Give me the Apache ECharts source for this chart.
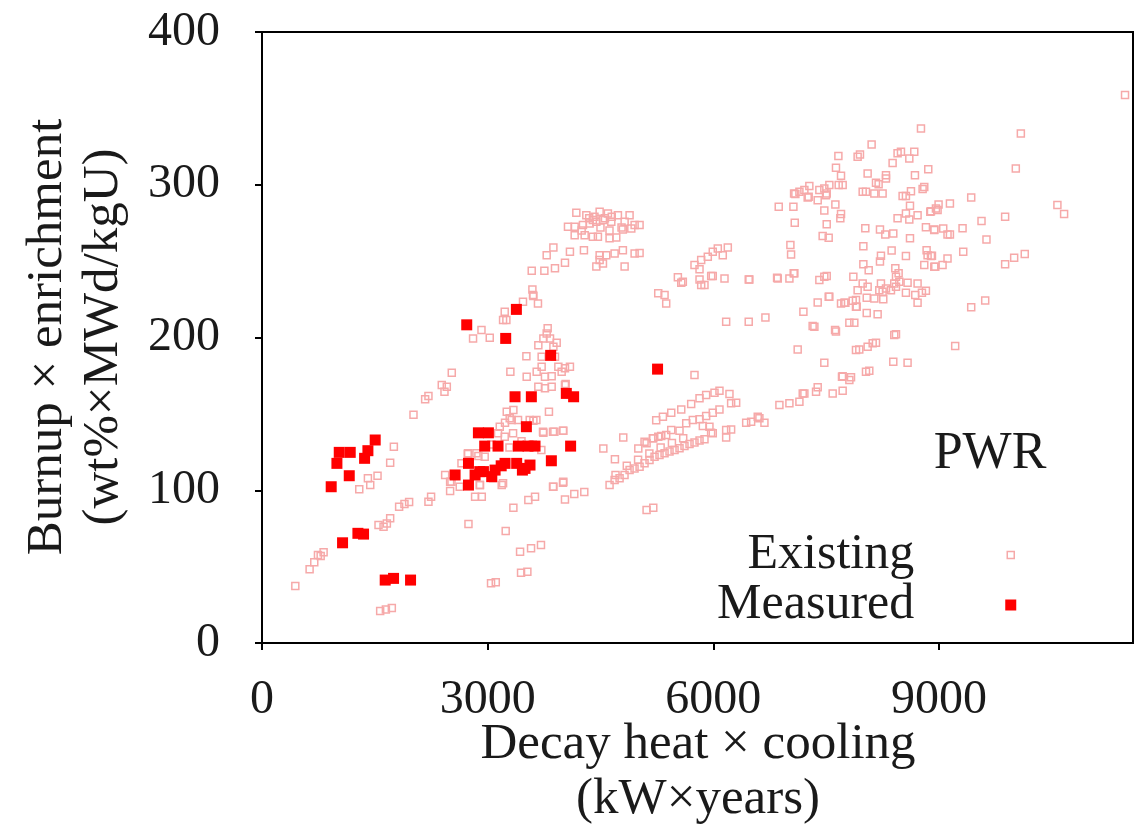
<!DOCTYPE html>
<html>
<head>
<meta charset="utf-8">
<script src="https://cdn.jsdelivr.net/npm/echarts@6/dist/echarts.min.js"></script>
<style>
html,body{margin:0;padding:0;background:#fff;}
#chart{width:1140px;height:825px;}
</style>
</head>
<body>
<div id="chart"></div>
<script>
// ---- Data (x: decay heat x cooling [kW x years], y: burnup x enrichment) ----
const xTicks = [0, 3000, 6000, 9000];
const yTicks = [0, 100, 200, 300, 400];

const existingLowLeft = [
  [443,37.3],[633,48.2],[695,52.8],[744,57.6],[819,59.4],[780,57],
  [1549,77.2],[1616,76.1],[1660,78.3],[1704,81.6],
  [1823,89.2],[1894,91],[1956,92.3],[2213,92.5],[2248,95.8],
  [2435,110],[2501,105.6],[2501,99.5],[1753,128.5],[1704,118],
  [1536,109.5],[1408,107.8],[1439,103.4],[1293,100.6],
  [1571,20.9],[1647,22],[1726,22.9],
  [2390,168.9],[2457,167.8],[2426,164.5],[2523,176.9],
  [2169,159.5],[2213,161.7],[2014,149.4],
  [2736,123.7],[2877,122.4],[2833,95.8],[2922,95.8],[2899,103.4],[3187,103.4],
  [2745,77.9],[3240,73.3],[3431,59.8],[3577,62],[3709,64.1],
  [3444,46],[3528,46.7],[3045,39.1],[3108,39.8]
];

const existingCenter = [
  [3254,151.4],[3342,152.5],[3815,151.4],[4037,169.5],
  [3231,144.2],[3320,146],[3608,145.5],[3741,137.6],[3887,138.3],[4006,139],
  [3541,93.6],[3630,95.8],[3342,88.6],[3874,102.3],[4006,105.6],
  [4028,94],[4152,97.5],[4285,98.8],
  [3603,227.8],[3669,222.3],[3470,223.4],[3595,231.5],[3608,227.1],
  [3227,216.8],[3249,211.4],[3205,211.4],[2806,199.4],[2918,204.9],[3028,199.8],
  [3515,187.8],[3302,177.6],
  [3798,206],[3785,202.7],[3741,199.4],[3829,199.4],[3918,196.6],[3674,195],[3874,193.9],
  [3718,187.4],[3895,187.4],[3718,180.9],[3940,180.9],[4028,179.8],[4094,180.9],
  [3652,177.6],[3762,174.3],[3851,174.7],[3984,177.6],[3519,174.3],
  [3674,167.8],[3762,166.7],[3851,167.8],[4028,168.9],
  [3293,147.1],[3404,146],[3559,146],[3648,146],[3869,138.3],[4002,139],[3736,138.3],
  [3138,137.3],[3227,135.1],[3338,137.3],[3161,141.6],
  [2740,124.2],[2652,117.6],[2851,124.2],[2961,122],
  [2519,105.6],[2629,102.3],[2895,103.4],[3205,104.6],[3072,107.8],
  [3714,126.3],[3869,102.3],[4002,104.9],
  [3050,130],[3290,128],[3450,132],[3600,130]
];

const existingTop = [
  [3586,243.7],[3754,243.7],[3895,245.3],[4028,248.9],[3785,253.9],[3874,259],[4094,256.1],[4280,257.2],
  [4179,281.6],[4312,280.1],[4399,276.9],[4489,282.3],[4599,281.2],[4732,280.1],[4887,280.1],
  [4068,272.5],[4157,272.5],[4267,273.6],[4356,274.7],[4445,275.8],[4533,276.9],[4644,275.8],
  [4821,275.8],[4954,273.6],[5020,273.6],
  [4157,267],[4290,267],[4399,265.9],[4466,265.9],[4621,264.9],[4710,265.5],[4798,270.7],[4910,271.4],
  [4489,253.9],[4577,253.9],[4688,255],[4798,257.2],[4954,255],[5020,255.4],
  [4445,246.4],[4533,248.5],[4821,246.4],[4489,250.7],
  [4350,278],[4420,279],[4560,278],[4650,279],[4780,272],[4250,270],[4620,270],[4500,272]
];

const existingBands = [
  [4538,127.4],[4692,120.3],[4803,134.6],[5003,127.4],[5113,130.7],[5202,134],[5268,135],
  [5113,87],[5202,88.6],
  [5241,145.9],[5330,148.1],[5441,150.7],[5574,152.9],[5706,156.4],[5817,160.2],[5905,162.3],
  [6016,163.8],[6082,165.1],[6215,163],[6304,157.3],[6237,156.9],
  [5441,139.4],[5551,139],[5640,143.8],[5728,146],[5817,146.4],[5905,148.6],[5993,150.7],
  [6082,152.9],[5861,142],[5949,141.6],[6171,139.4],[6237,139.8],
  [4621,103.4],[4688,106.7],[4754,107.8],[4820,110],[4887,113.2],[4953,114.3],[5020,115.4],
  [5086,117.6],[5152,119.8],[5219,122],[5285,123.1],[5352,124.2],[5418,125.3],[5485,126.4],
  [5551,127.5],[5617,129],[5684,130.3],[5750,131.2],[5817,132.5],[5883,133.4],[5993,137.3],
  [4700,110],[4850,116],[5000,120],[5150,124],[5300,128],[5450,131],[5600,134],
  [5086,131.7],[5196,134],[5308,135.5],[5374,136.1],
  [5750,175.4],[6171,134.6],[6437,144.2],[6503,144.9],[6591,148.1],[5971,137.6],
  [6613,147.1],[6680,144.2],
  [6879,155.8],[7012,156.9],[7145,158],[7189,163.4],[7366,164.5],[7388,167.4],
  [7587,163.4],[7720,165.1],[7809,172.1],[7211,163.4]
];

const existingUpperRight = [
  [5352,227.8],[5374,222.3],[5529,239.4],[5574,235.8],[5595,236.5],
  [5750,247.4],[5817,244.6],[5839,250.7],[5927,252.9],[5993,256.1],[6060,258.3],[6126,253.9],[6193,259],
  [5817,238],[5839,234.3],[5883,234.3],[5972,240.2],[5993,240.2],[6480,238],[5268,228.9],
  [6171,210.3],[6149,238.6],[6857,238.6],[6693,213.1],[6471,210.3],[6471,238],
  [8761,336.9],[8105,326.4],[7663,318.9],[7950,319.8],[7919,318.3],[8495,321.6],[8450,320.7],
  [8672,321.6],[8606,317.2],[8384,314.3],[7631,311.1],[8858,310.2],[8052,307.4],[7698,305.9],
  [8296,306.3],[8296,304.1],[8681,306.3],[8163,301.3],[8198,300.4],[7667,299.8],[7720,299.8],
  [7543,299.8],[7277,299.1],[7211,296.5],[7145,295.4],[7074,294.3],[7410,296.5],[7476,297.6],
  [7508,294.3],[7255,291.7],[7388,289.9],[7986,295.4],[8030,295.4],[8141,294.3],[8251,294.3],
  [8517,292.6],[8561,292.6],[8628,295.8],[8805,298.6],[8783,297.2],[6870,285.6],[7065,285.6],
  [7623,287.1],[8615,286.3],[8885,282.4],[8960,284.5],[7476,283.1],[7698,280.8],[7689,278],
  [8561,281.2],[8450,278],[8606,277.3],[8716,280.1],[7083,275.2],[7508,274.1],[8021,271.5],
  [8216,270.7],[8287,267.4],[8393,268.1],[8827,272.1],[8938,270.7],[8615,264.9],[7454,266.4],
  [7534,265.3],[7025,260.5],[7034,254.4],[7995,259.8],[8371,256.9],[8229,253.6],[8216,249.7],
  [8561,253.3],[8836,257.2],[8849,253.9],[8894,253.3],[8805,247.4],[8938,246.3],[7995,248],
  [8066,244.1],[8420,245.3],[8464,242],[8429,239.8],[8406,235.4],[8473,236.5],[8429,233.2],
  [8583,235.8],[8716,235.4],[8561,229.3],[8685,227.8],[8774,229.3],[8827,230.6],[8716,222.7],
  [6848,239.1],[7012,238.6],[7069,242],[7410,237.6],[7476,239.8],[7508,240.2],[7862,239.8],
  [7986,235.4],[7919,231],[8052,233.2],[8229,235.4],[8207,231],[8296,232.1],[8362,231],[8251,230],
  [8040,226],[8141,225.6],[8260,225.1],[7534,226.7],[7388,222.9],[7698,222.3],[7756,222.7],
  [7853,224.1],[7906,220.1],[7198,216.8],[8040,216.1],[8185,215.3],[7321,207.5],[7344,207.1],
  [7619,204.9],[7809,209.6],[7875,209.6],
  [8406,201.6],[8429,202.2],[7941,192.2],[8052,193.9],[8119,196.2],[8163,196.5],[7122,192.2],
  [9216,194.4],[7476,183.5],[8393,184.1],[8583,183.5],[7720,174.7],[7831,173.9],[8030,177.6],
  [8074,178.3],[7631,203.9],[7897,191.8],
  [10089,333.6],[10022,310.7],[9429,291.7],[9146,287.8],[8995,287.1],[8982,283.4],[8894,282.7],
  [10575,286.7],[10664,280.8],[9880,279],[9566,276.2],[9314,271.6],[9057,271.3],[8937,270.3],
  [9114,267.4],[9146,267.4],[9632,264.2],[9323,256.1],[8907,253.6],[9114,251.8],[9048,247.4],
  [8951,246.3],[10141,254.6],[10000,252.2],[9880,247.9],[9615,224.3],[9429,219.8],[11474,358.7],
  [7091,293.9],[7268,292.2],[7499,293.2],[7078,242],[7543,226.7],[7742,222.7],[7897,224.5],
  [7897,220.1],[7711,174.3]
];

const measured = [
  [920,102.3],[1027,124.8],[1173,124.8],[996,117.6],[1160,109.5],[1364,120.9],[1408,125.9],
  [1505,132.9],[1071,65.6],[1275,71.8],[1350,71.3],[1638,41.2],[1749,42.3],[1975,41.2],[2567,110],
  [3382,218.4],[2722,208.3],[3240,199.4],[3838,188.3],[3364,161.2],[3581,161.2],[4046,163.4],
  [4143,161.2],[3515,141.6],[2877,137.6],[3010,137.6],[2961,128.9],[3138,128.9],[3409,128.9],
  [3537,128.9],[3630,128.9],[4103,128.9],[3847,119.3],
  [2745,117.6],[2745,103.4],[2833,110],[2944,112.2],[3099,113.2],[3231,117.6],[3386,117.6],
  [3497,114.3],[3563,116.5],[3054,108.9],[3462,113.2],[3180,116],[2895,112.2],
  [5259,179.3]
];

const existing = [].concat(existingLowLeft, existingCenter, existingTop, existingBands, existingUpperRight);

const FONT = 'Liberation Serif';
const TXT = '#1a1a1a';
const PINK = '#f6a9a9';
const chart = echarts.init(document.getElementById('chart'), null, {renderer: 'canvas'});

function txt(text, x, y, size, rot) {
  return {
    type: 'text', x: x, y: y, rotation: rot || 0,
    style: {text: text, fontFamily: FONT, fontSize: size, fill: TXT, align: 'center', verticalAlign: 'middle'}
  };
}

chart.setOption({
  animation: false,
  backgroundColor: '#fff',
  grid: {left: 262, top: 32, right: 7, bottom: 182, show: true, borderColor: '#000', borderWidth: 2, backgroundColor: 'transparent'},
  xAxis: {
    type: 'value', min: 0, max: 11580, interval: 3000,
    splitLine: {show: false},
    axisLine: {show: false},
    axisTick: {show: true, inside: false, length: 7, lineStyle: {color: '#000', width: 2}, customValues: xTicks},
    axisLabel: {fontFamily: FONT, fontSize: 48, color: TXT, margin: 33, customValues: xTicks, formatter: v => String(v)}
  },
  yAxis: {
    type: 'value', min: 0, max: 400, interval: 100,
    splitLine: {show: false},
    axisLine: {show: false},
    axisTick: {show: true, inside: false, length: 7, lineStyle: {color: '#000', width: 2}, customValues: yTicks},
    axisLabel: {fontFamily: FONT, fontSize: 48, color: TXT, margin: 42, customValues: yTicks, formatter: v => String(v)}
  },
  legend: {
    orient: 'vertical', right: 118, top: 525, align: 'right',
    itemWidth: 11, itemHeight: 11, itemGap: 0,
    textStyle: {fontFamily: FONT, fontSize: 50, color: TXT, lineHeight: 48, padding: [0, 86, 0, 0]},
    data: [
      {name: 'Existing', icon: 'path://M0,0M11,11M2,2L9,2L9,9L2,9Z', itemStyle: {color: 'rgba(0,0,0,0)', borderColor: PINK, borderWidth: 1.5, opacity: 1}},
      {name: 'Measured', icon: 'rect', itemStyle: {color: '#ff0000', opacity: 1}}
    ]
  },
  graphic: [
    txt('Burnup × enrichment', 48, 337, 51, Math.PI / 2),
    txt('(wt%×MWd/kgU)', 104, 337, 51, Math.PI / 2),
    txt('Decay heat × cooling', 698, 745, 51),
    txt('(kW×years)', 698, 800, 51),
    txt('PWR', 990, 454, 52)
  ],
  series: [
    {
      name: 'Existing', type: 'scatter', symbol: 'rect', symbolSize: 7,
      itemStyle: {color: 'rgba(0,0,0,0)', borderColor: PINK, borderWidth: 1.5, opacity: 1},
      data: existing, z: 2
    },
    {
      name: 'Measured', type: 'scatter', symbol: 'rect', symbolSize: 11,
      itemStyle: {color: '#ff0000', opacity: 1},
      data: measured, z: 3
    }
  ]
});
</script>
</body>
</html>
